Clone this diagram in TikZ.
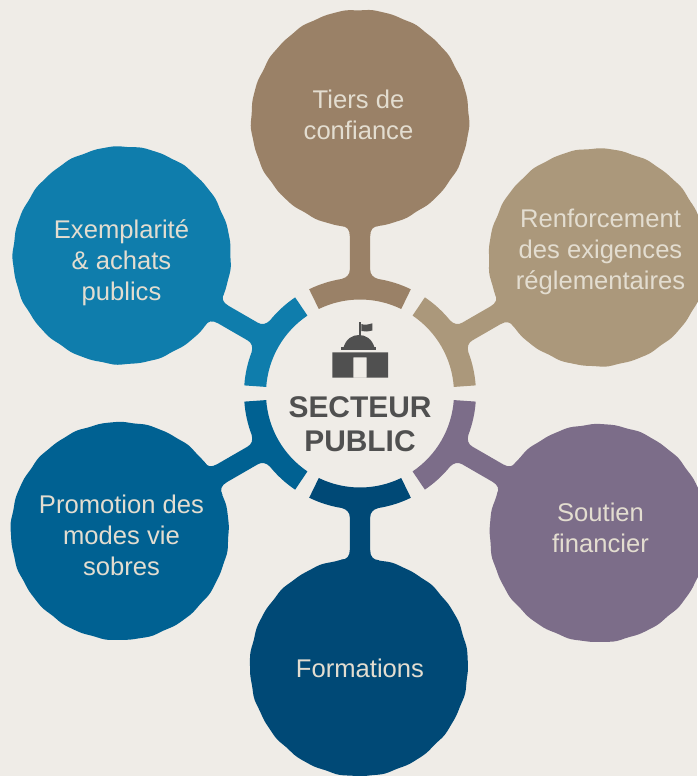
\documentclass[tikz,border=0pt]{standalone}
\usepackage{fontspec}
\setmainfont{Liberation Sans}
\definecolor{bgc}{HTML}{EFECE7}
\definecolor{ctop}{HTML}{9A8167}
\definecolor{cright}{HTML}{AB987B}
\definecolor{clr}{HTML}{7C6D89}
\definecolor{cbot}{HTML}{004976}
\definecolor{cll}{HTML}{006192}
\definecolor{cul}{HTML}{0F7DAC}
\definecolor{ctxt}{HTML}{E3DDD0}
\definecolor{cdark}{HTML}{505050}
\tikzset{
  bubbletext/.style={text=ctxt,align=center,inner sep=0pt,font=\fontsize{25.6}{31}\selectfont},
  hubtext/.style={text=cdark,align=center,inner sep=0pt,font=\fontsize{29.9}{34}\selectfont\bfseries},
}
\newcommand{\branchshape}[5]{% angle, colour, cx, cy, phase
  \pgfmathsetmacro{\dxx}{#3-360}
  \pgfmathsetmacro{\dyy}{393.5-#4}
  \pgfmathsetmacro{\lxx}{\dxx*cos(#1-90)+\dyy*sin(#1-90)}
  \pgfmathsetmacro{\lyy}{-\dxx*sin(#1-90)+\dyy*cos(#1-90)}
  \pgfmathsetmacro{\yL}{\lyy-sqrt(109*109-(-19-\lxx)*(-19-\lxx))+0.4}
  \pgfmathsetmacro{\yR}{\lyy-sqrt(109*109-(19-\lxx)*(19-\lxx))+0.4}
  \begin{scope}[shift={(360,393.5)},yscale=-1,rotate=90-#1]
    \fill[#2] (64:94) arc[start angle=64,end angle=116,radius=94]
      -- (116:116) arc[start angle=116,end angle=99.1,radius=116]
      .. controls (-13,116) and (-10.2,119) .. (-10.2,124)
      -- (-10.2,\yL-10.3)
      .. controls (-10.2,\yL-3.8) and (-13,\yL-0.3) .. (-19,\yL)
      -- (-19,\yL+20) -- (19,\yR+20) -- (19,\yR)
      .. controls (13,\yR-0.3) and (10.2,\yR-3.8) .. (10.2,\yR-10.3)
      -- (10.2,124)
      .. controls (10.2,119) and (13,116) .. (18.3,114.5)
      arc[start angle=80.9,end angle=64,radius=116] -- cycle;
  \end{scope}
  \fill[#2,shift={(#3,#4)}] plot[variable=\t,domain=0:359,samples=180]
    ({(109+0.3*sin(17*\t+#5)+0.25*sin(29*\t+2*#5)+0.2*sin(3*\t+#5))*cos(\t)},{(109+0.3*sin(17*\t+#5)+0.25*sin(29*\t+2*#5)+0.2*sin(3*\t+#5))*sin(\t)}) -- cycle;
}
\begin{document}
\begin{tikzpicture}[x=1pt,y=-1pt]
\fill[bgc] (0,0) rectangle (697,776);
\useasboundingbox (0,0) rectangle (697,776);
\branchshape{90}{ctop}{360}{119}{10}
\branchshape{30}{cright}{597.5}{257.5}{70}
\branchshape{-30}{clr}{598.5}{533}{130}
\branchshape{-90}{cbot}{359}{667}{200}
\branchshape{-150}{cll}{120}{531}{250}
\branchshape{150}{cul}{122}{255.5}{310}
% icon
\fill[cdark,even odd rule] (332.3,352.3) rectangle (388,377.7) (353.3,357.3) rectangle (366.7,377.7);
\fill[cdark] (341,347.3) rectangle (376,350);
\fill[cdark] (343.5,347.5) .. controls (346,339) and (352,335) .. (359,335) .. controls (366,335) and (372,339) .. (374.5,347.5) -- cycle;
\fill[cdark] (359.3,321.7) rectangle (361.3,336);
\fill[cdark] (361.3,324) .. controls (365,325.5) and (368,324.5) .. (372.3,323.3) -- (372.3,330.5) .. controls (368,331.5) and (365,332) .. (361.3,331) -- cycle;
% text
\node[bubbletext] (tiers) at (358.5,114.5) {Tiers de\\confiance};
\node[bubbletext] (renf) at (600.5,252) {Renforcement\\des exigences\\réglementaires};
\node[bubbletext] (soutien) at (600.5,527.5) {Soutien\\financier};
\node[bubbletext] (form) at (360,668) {Formations};
\node[bubbletext] (promo) at (121.5,535) {Promotion des\\modes vie\\sobres};
\node[bubbletext] (exemp) at (121.5,263) {Exemplarité\\\&\ achats\\publics};
\node[hubtext] (hub) at (360,424) {SECTEUR\\PUBLIC};
\end{tikzpicture}
\end{document}
